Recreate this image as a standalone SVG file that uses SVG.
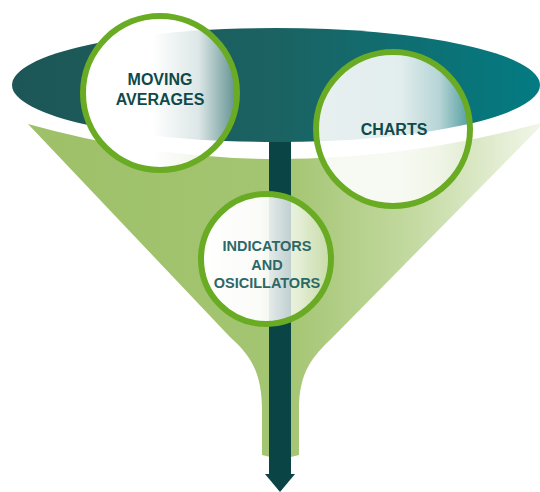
<svg xmlns="http://www.w3.org/2000/svg" width="540" height="492" viewBox="0 0 540 492">
<defs>
<linearGradient id="gEll" x1="0" y1="0" x2="1" y2="0">
<stop offset="0" stop-color="#1d5656"/>
<stop offset="0.5" stop-color="#1b6262"/>
<stop offset="1" stop-color="#037b82"/>
</linearGradient>
<linearGradient id="gFun" gradientUnits="userSpaceOnUse" x1="28" y1="0" x2="545" y2="0">
<stop offset="0" stop-color="#9dc068"/>
<stop offset="0.5" stop-color="#a4c572"/>
<stop offset="0.75" stop-color="#c4daa2"/>
<stop offset="1" stop-color="#f3f7ec"/>
</linearGradient>
<linearGradient id="gC1" x1="0" y1="0" x2="1" y2="0">
<stop offset="0" stop-color="#ffffff" stop-opacity="1"/>
<stop offset="0.45" stop-color="#ffffff" stop-opacity="1"/>
<stop offset="0.75" stop-color="#ffffff" stop-opacity="0.85"/>
<stop offset="1" stop-color="#ffffff" stop-opacity="0.3"/>
</linearGradient>
<linearGradient id="gC2" x1="0" y1="0" x2="1" y2="0">
<stop offset="0" stop-color="#ffffff" stop-opacity="0.9"/>
<stop offset="0.55" stop-color="#ffffff" stop-opacity="0.88"/>
<stop offset="0.8" stop-color="#ffffff" stop-opacity="0.7"/>
<stop offset="1" stop-color="#ffffff" stop-opacity="0.3"/>
</linearGradient>
<linearGradient id="gC3" x1="0" y1="0" x2="1" y2="0">
<stop offset="0" stop-color="#ffffff" stop-opacity="1"/>
<stop offset="0.45" stop-color="#ffffff" stop-opacity="0.95"/>
<stop offset="0.75" stop-color="#ffffff" stop-opacity="0.7"/>
<stop offset="1" stop-color="#ffffff" stop-opacity="0.3"/>
</linearGradient>
<style>
.ring{stroke:#6aab24;stroke-width:6}
.lbl{font-family:"Liberation Sans",Arial,sans-serif;font-weight:bold;fill:#0e4a4a;text-anchor:middle}
</style>
</defs>
<g id="funnel">
<path d="M 28 124 Q 280 195 545 122 L 333 337 C 312 357 299 372 299 410 L 299 455 Q 281 461 262 455 L 262 410 C 262 372 250 355 230 337 Z" fill="url(#gFun)"/>
</g>
<g id="connectors">
<rect x="269" y="130" width="22" height="345" fill="#0a4444"/>
<path d="M 265 474 L 295 474 L 280 492 Z" fill="#0a4444"/>
</g>
<g id="top">
<ellipse cx="276" cy="85" rx="264" ry="57" fill="url(#gEll)"/>
</g>
<g id="moving-averages">
<circle cx="160" cy="93" r="77" fill="url(#gC1)" class="ring"/>
<text class="lbl" x="160" y="85" font-size="16">MOVING</text>
<text class="lbl" x="160" y="105" font-size="16">AVERAGES</text>
</g>
<g id="charts">
<circle cx="393" cy="129" r="77" fill="url(#gC2)" class="ring"/>
<text class="lbl" x="394" y="135" font-size="16">CHARTS</text>
</g>
<g id="indicators">
<circle cx="266" cy="259" r="65" fill="url(#gC3)" class="ring"/>
<text class="lbl" x="267" y="251" font-size="14.5" fill="#2d6868" style="fill:#2d6868">INDICATORS</text>
<text class="lbl" x="267" y="270" font-size="14.5" style="fill:#2d6868">AND</text>
<text class="lbl" x="267" y="288" font-size="14.5" style="fill:#2d6868">OSICILLATORS</text>
</g>
</svg>
